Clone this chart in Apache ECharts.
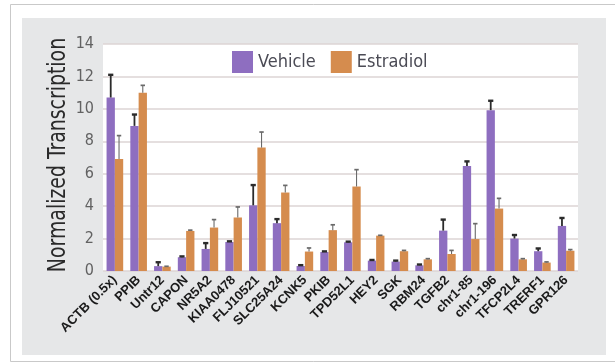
<!DOCTYPE html>
<html>
<head>
<meta charset="utf-8">
<script src="https://cdn.jsdelivr.net/npm/echarts@6/dist/echarts.min.js"></script>
<style>
  html, body { margin: 0; padding: 0; background: #ffffff; }
  #chart { width: 615px; height: 363px; }
</style>
</head>
<body>
<div id="chart"></div>
<script>
// Genes on the x axis
const categories = ['ACTB (0.5x)', 'PPIB', 'Untr12', 'CAPON', 'NR5A2', 'KIAA0478', 'FLJ10521',
  'SLC25A24', 'KCNK5', 'PKIB', 'TPD52L1', 'HEY2', 'SGK', 'RBM24', 'TGFB2', 'chr1-85',
  'chr1-196', 'TFCP2L4', 'TRERF1', 'GPR126'];

// Mean normalized transcription
const vehicle = [10.7, 8.95, 0.3, 0.85, 1.36, 1.79, 4.05, 2.95, 0.31, 1.17, 1.77, 0.64, 0.58, 0.35, 2.49, 6.48, 9.92, 2.0, 1.22, 2.78];
const estradiol = [6.9, 11.0, 0.27, 2.47, 2.68, 3.3, 7.61, 4.84, 1.2, 2.52, 5.21, 2.18, 1.22, 0.72, 1.05, 1.97, 3.85, 0.72, 0.52, 1.25];

// Upper end of each error bar
const vehicleUpper = [12.1, 9.65, 0.54, 0.9, 1.72, 1.83, 5.3, 3.2, 0.36, 1.21, 1.81, 0.68, 0.64, 0.4, 3.17, 6.76, 10.5, 2.22, 1.39, 3.27];
const estradiolUpper = [8.35, 11.45, 0.29, 2.52, 3.17, 3.95, 8.57, 5.28, 1.42, 2.85, 6.25, 2.2, 1.27, 0.76, 1.27, 2.92, 4.48, 0.76, 0.56, 1.32];

const yTicks = [0, 2, 4, 6, 8, 10, 12, 14];
const yTitle = 'Normalized Transcription';

const PURPLE = '#8e6ec0';
const ORANGE = '#d58c4e';
const CAT_GAP = 0.30;
const NARROW = '"Liberation Sans Narrow", "DejaVu Sans Condensed", "Arial Narrow", sans-serif';

function errorSeries(name, means, uppers, side, color, lw, capHalf) {
  return {
    type: 'custom',
    name: name + ' error',
    z: 5,
    silent: true,
    data: means.map((m, i) => [i, m, uppers[i]]),
    renderItem: function (params, api) {
      const i = api.value(0);
      const base = api.coord([i, api.value(1)]);
      const top = api.coord([i, api.value(2)]);
      const band = api.size([1, 0])[0];
      const bw = band * (1 - CAT_GAP) / 2;
      const x = base[0] + side * bw / 2;
      const style = { stroke: color, lineWidth: lw };
      return {
        type: 'group',
        children: [
          { type: 'line', shape: { x1: x, y1: base[1], x2: x, y2: top[1] }, style: style },
          { type: 'line', shape: { x1: x - capHalf, y1: top[1], x2: x + capHalf, y2: top[1] }, style: { stroke: color, lineWidth: lw + 0.6 } }
        ]
      };
    }
  };
}

const chart = echarts.init(document.getElementById('chart'), null, { renderer: 'canvas' });
chart.setOption({
  animation: false,
  backgroundColor: '#ffffff',
  graphic: [
    { type: 'rect', z: -10, shape: { x: 10.5, y: 4.5, width: 620, height: 357 }, style: { fill: '#ffffff', stroke: '#c9c9c9', lineWidth: 1 } },
    { type: 'rect', z: -9, shape: { x: 22, y: 18, width: 584, height: 337 }, style: { fill: '#e6e7e8' } },
    {
      type: 'text', z: 10,
      x: 58, y: 155, rotation: Math.PI / 2, scaleX: 0.84,
      style: { text: yTitle, fontFamily: NARROW, fontSize: 25, fill: '#2a2a2a', align: 'center', verticalAlign: 'middle' }
    }
  ],
  grid: { left: 103, top: 44, right: 37, bottom: 92, show: true, backgroundColor: '#ffffff', borderWidth: 0 },
  legend: {
    left: 227, top: 46,
    itemWidth: 21, itemHeight: 22, itemGap: 15,
    icon: 'rect',
    data: ['Vehicle', 'Estradiol'],
    textStyle: { fontFamily: NARROW, fontSize: 18, color: '#4b4b55' }
  },
  xAxis: {
    type: 'category',
    data: categories,
    axisLine: { show: false },
    axisTick: { show: false },
    axisLabel: { rotate: 45, interval: 0, margin: 7, fontFamily: '"Liberation Sans", Arial, sans-serif', fontWeight: 'bold', fontSize: 13, color: '#1a1a1a' }
  },
  yAxis: {
    type: 'value',
    min: yTicks[0], max: yTicks[yTicks.length - 1], interval: 2,
    axisLine: { show: false },
    axisTick: { show: false },
    axisLabel: { margin: 9, fontFamily: NARROW, fontSize: 16, color: '#626262' },
    splitLine: { lineStyle: { color: '#dcd4d4', width: 1.5 } }
  },
  series: [
    { name: 'Vehicle', type: 'bar', data: vehicle, barGap: '0%', barCategoryGap: (CAT_GAP * 100) + '%', itemStyle: { color: PURPLE } },
    { name: 'Estradiol', type: 'bar', data: estradiol, barGap: '0%', barCategoryGap: (CAT_GAP * 100) + '%', itemStyle: { color: ORANGE } },
    errorSeries('Vehicle', vehicle, vehicleUpper, -1, '#2b2b2b', 1.8, 2.6),
    errorSeries('Estradiol', estradiol, estradiolUpper, 1, '#6a6a6a', 1.1, 2.2)
  ]
});
</script>
</body>
</html>
